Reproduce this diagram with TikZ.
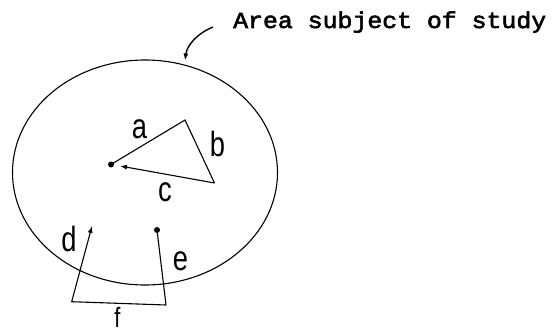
\documentclass[tikz,border=0pt]{standalone}
\usepackage{fontspec}
\usetikzlibrary{arrows.meta}
\newfontfamily\lblfont[FakeStretch=0.78]{Liberation Sans}
\newfontfamily\twfont[FakeStretch=1.08,FakeBold=2.5]{Liberation Mono}
\tikzset{
  ln/.style={line width=1.1pt},
  lbl/.style={anchor=base, inner sep=0pt, font=\lblfont\fontsize{35}{35}\selectfont},
  dotm/.style={circle, fill, inner sep=0pt, minimum size=6pt},
  tip/.style={-{Latex[length=7pt,width=5pt]}}
}
\begin{document}
\begin{tikzpicture}[x=1pt,y=-1pt]
\useasboundingbox (0,0) rectangle (559,334);
% title
\node[anchor=base west, inner sep=0pt, font=\twfont\fontsize{23}{23}\selectfont] (title) at (233,28) {Area subject of study};
% region
\draw[ln] (145,172.5) ellipse [x radius=132.5pt, y radius=112.5pt];
\coordinate (etop) at (185,60.5);
\coordinate (astart) at (213,27);
\draw[line width=1.4pt, tip] (astart) .. controls (198,33) and (187,45) .. (etop);
% triangle
\node[dotm] (p0) at (111,164.5) {};
\coordinate (p1) at (185,120);
\coordinate (p2) at (214.5,183);
\coordinate (cend) at (120,166);
\draw[ln] (p0.center) -- (p1) -- (p2);
\draw[ln, tip] (p2) -- (cend);
% bottom bracket
\node[dotm] (pe) at (157,230) {};
\coordinate (bl) at (71.7,301.7);
\coordinate (br) at (166,305);
\coordinate (dtip) at (92,226);
\draw[ln, tip] (br) -- (bl) -- (dtip);
\draw[ln] (br) -- (pe.center);
% labels
\node[lbl] (la) at (139.5,138.3) {a};
\node[lbl] (lb) at (217.5,156.7) {b};
\node[lbl] (lc) at (165,201.7) {c};
\node[lbl] (ld) at (69,251.7) {d};
\node[lbl] (le) at (180.5,270) {e};
\node[lbl, font=\lblfont\fontsize{28}{28}\selectfont] (lf) at (117.5,327.5) {f};
\end{tikzpicture}
\end{document}
